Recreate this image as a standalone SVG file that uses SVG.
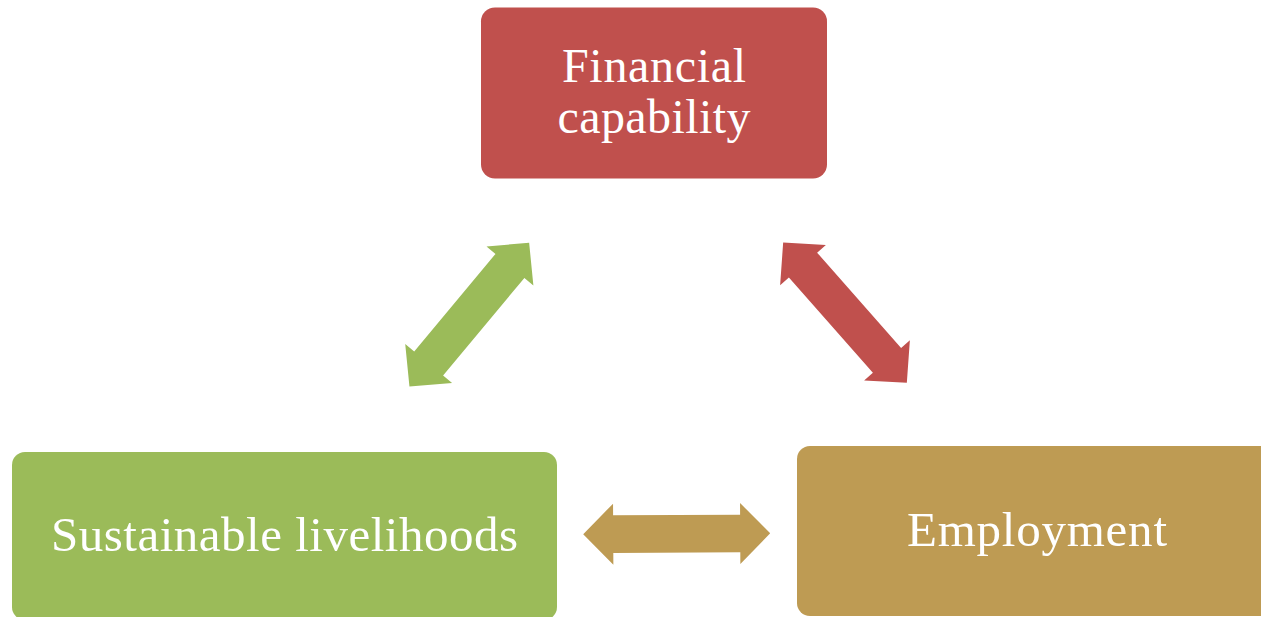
<svg xmlns="http://www.w3.org/2000/svg" xmlns:xlink="http://www.w3.org/1999/xlink" width="1261" height="617" viewBox="0 0 1261 617">
  <style>
    .label { font-family: "Liberation Serif", "DejaVu Serif", serif; font-size: 49px; fill: #ffffff; text-anchor: middle; }
    .label.two-line { font-size: 48px; }
    .red { fill: #C0504D; }
    .green { fill: #9BBB59; }
    .gold { fill: #BE9B53; }
  </style>
  <defs>
    <!-- double-headed block arrow, centred on the origin, pointing along x -->
    <polygon id="dbl-arrow" points="-93.5,0 -63.5,-30.5 -63.5,-18.8 63.5,-18.8 63.5,-30.5 93.5,0 63.5,30.5 63.5,18.8 -63.5,18.8 -63.5,30.5"/>
  </defs>
  <rect width="1261" height="617" fill="#ffffff"/>

  <g id="connectors">
    <use xlink:href="#dbl-arrow" class="green" transform="translate(469.3,314.7) rotate(-50.2)"/>
    <use xlink:href="#dbl-arrow" class="red" transform="translate(845,312.7) rotate(48.6)"/>
    <use xlink:href="#dbl-arrow" class="gold" transform="translate(676.7,533.8) rotate(-0.3)"/>
  </g>

  <g id="financial-capability">
    <rect x="481" y="7.5" width="346" height="171" rx="14" class="red"/>
    <text class="label two-line" x="654" y="82" textLength="184">Financial</text>
    <text class="label two-line" x="654" y="133" textLength="193">capability</text>
  </g>

  <g id="sustainable-livelihoods">
    <rect x="12" y="452" width="545" height="168" rx="13" class="green"/>
    <text class="label" x="284.5" y="551" textLength="467">Sustainable livelihoods</text>
  </g>

  <g id="employment">
    <rect x="797" y="446" width="480" height="170" rx="13" class="gold"/>
    <text class="label" x="1037" y="546" textLength="260">Employment</text>
  </g>
</svg>
